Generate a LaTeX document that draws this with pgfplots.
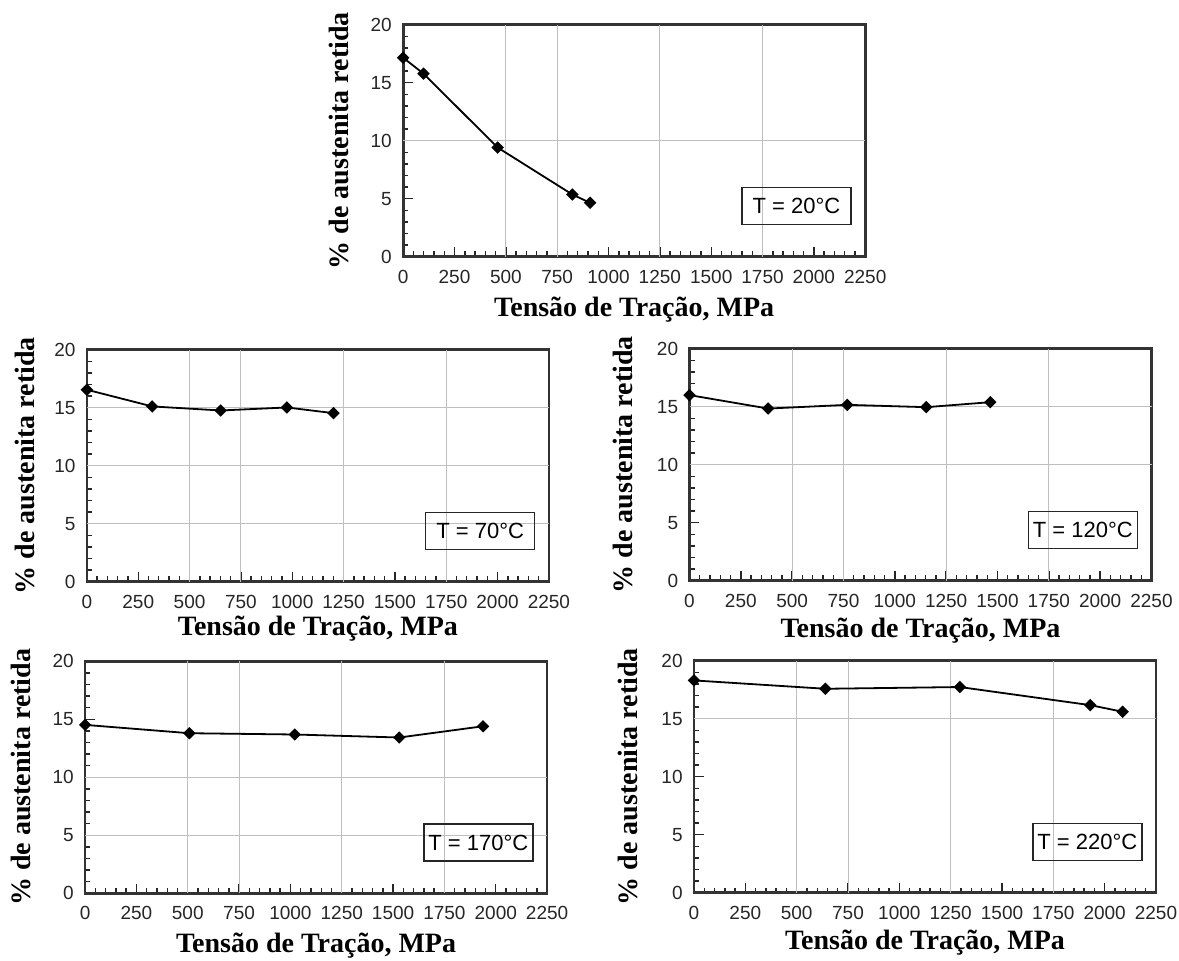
\documentclass[border=0pt]{standalone}
\usepackage{fontspec}
\setmainfont{Liberation Serif}
\newfontfamily\sansf{Liberation Sans}
\usepackage{pgfplots}
\pgfplotsset{compat=1.18}

\tikzset{
  tbox/.style={draw=black!85, line width=0.7pt, minimum width=54.5pt, minimum height=18.5pt,
    anchor=south east, inner sep=0pt, xshift=-6.75pt, yshift=15.75pt,
    font=\sansf\fontsize{11}{12}\selectfont},
  ser/.style={black, line width=0.9pt, mark=square*, mark size=1.75pt, mark options={solid, fill=black, draw=black, rotate=45}},
}
\pgfplotsset{
  panel/.style={
    scale only axis, width=231pt, height=116pt,
    xmin=0, xmax=2250, ymin=0, ymax=20,
    clip=false,
    xtick={0,250,...,2250}, ytick={0,5,...,20},
    minor x tick num=4, minor y tick num=4,
    tick align=inside, xtick pos=bottom, ytick pos=left,
    axis line style={line width=1.3pt, black!80},
    every tick/.style={black!85, line width=0.7pt},
    major tick length=4.8pt, minor tick length=2.6pt,
    /pgf/number format/.cd, 1000 sep={}, assume math mode=true, /pgfplots/.cd,
    ticklabel style={font=\sansf\fontsize{9.5}{10}\selectfont, text=black!85},
    xticklabel style={inner sep=0pt, anchor=center, yshift=-10pt},
    yticklabel style={inner sep=0pt, anchor=east, xshift=-5.5pt},
    xlabel={Tensão de Tração, MPa},
    ylabel={\% de austenita retida},
    label style={font=\bfseries\fontsize{14}{16}\selectfont},
    grid style={gray!50, line width=0.5pt},
    extra x ticks={500,750,1250,1750}, extra x tick labels={},
    extra x tick style={grid=major, major tick length=0pt},
    extra y tick labels={},
    extra y tick style={grid=major, major tick length=0pt},
  },
  xl/.style={xlabel style={at={(axis description cs:0.5,#1)}, anchor=center}},
  yl/.style={ylabel style={at={(axis description cs:#1,0.5)}, anchor=center}},
}

\begin{document}
\begin{tikzpicture}
\path[use as bounding box] (0pt,0pt) rectangle (589.5pt,480pt);

% T = 20 C
\begin{axis}[panel, at={(201.6pt,351.65pt)}, anchor=south west,
  xl=-0.228, yl=-0.1385, extra y ticks={10}]
\addplot[ser] coordinates {(0,17.15) (99,15.78) (460,9.41) (824,5.36) (910,4.65)};
\node[tbox] at (rel axis cs:1,0) {T = 20°C};
\end{axis}

% T = 70 C
\begin{axis}[panel, at={(43.45pt,189.15pt)}, anchor=south west,
  xl=-0.203, yl=-0.134, extra y ticks={5,10,15}]
\addplot[ser] coordinates {(0,16.55) (318,15.11) (651,14.76) (974,15.02) (1201,14.53)};
\node[tbox] at (rel axis cs:1,0) {T = 70°C};
\end{axis}

% T = 120 C
\begin{axis}[panel, at={(344.75pt,189.65pt)}, anchor=south west,
  xl=-0.216, yl=-0.1436, extra y ticks={10,15}]
\addplot[ser] coordinates {(0,16.0) (383,14.84) (768,15.16) (1153,14.96) (1465,15.39)};
\node[tbox] at (rel axis cs:1,0) {T = 120°C};
\end{axis}

% T = 170 C
\begin{axis}[panel, at={(42.55pt,33.35pt)}, anchor=south west,
  xl=-0.224, yl=-0.1385, extra y ticks={5,10}]
\addplot[ser] coordinates {(0,14.52) (508,13.80) (1021,13.69) (1530,13.43) (1938,14.40)};
\node[tbox] at (rel axis cs:1,0) {T = 170°C};
\end{axis}

% T = 220 C
\begin{axis}[panel, at={(347pt,33.65pt)}, anchor=south west,
  xl=-0.2155, yl=-0.1422, extra y ticks={15}]
\addplot[ser] coordinates {(0,18.30) (640,17.58) (1295,17.73) (1930,16.17) (2087,15.60)};
\node[tbox] at (rel axis cs:1,0) {T = 220°C};
\end{axis}
\end{tikzpicture}
\end{document}
